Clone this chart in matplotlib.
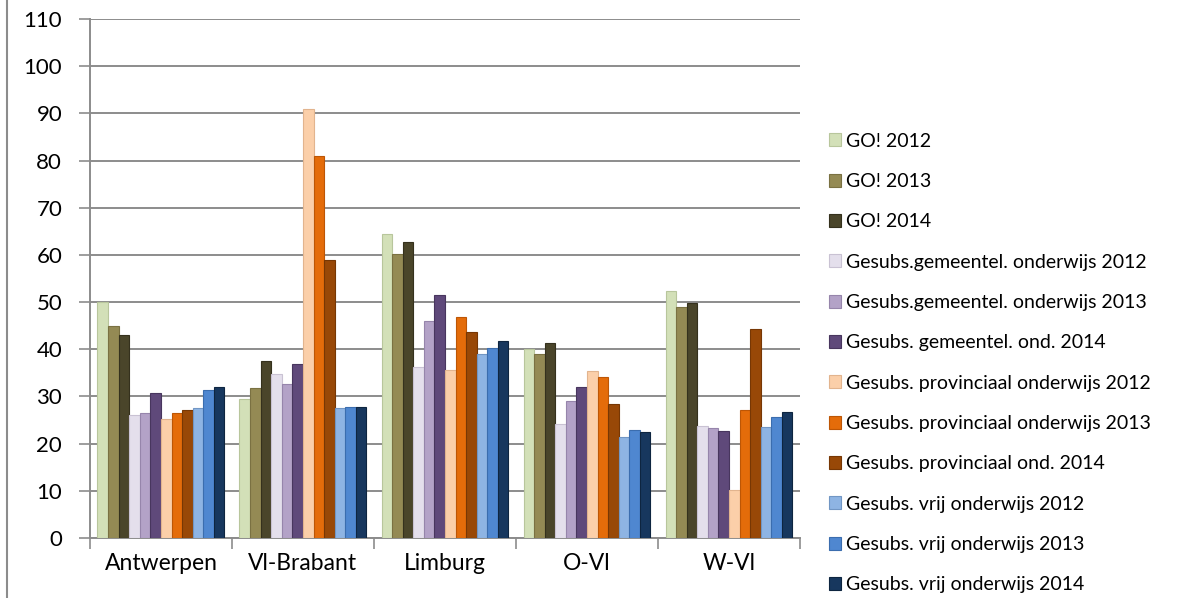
import numpy as np
import matplotlib
matplotlib.use("Agg")
import matplotlib.pyplot as plt
from matplotlib.lines import Line2D

# ---- Data ----
regions = ["Antwerpen", "Vl-Brabant", "Limburg", "O-Vl", "W-Vl"]
series_names = [
    "GO! 2012",
    "GO! 2013",
    "GO! 2014",
    "Gesubs.gemeentel. onderwijs 2012",
    "Gesubs.gemeentel. onderwijs 2013",
    "Gesubs. gemeentel. ond. 2014",
    "Gesubs. provinciaal onderwijs 2012",
    "Gesubs. provinciaal onderwijs 2013",
    "Gesubs. provinciaal ond. 2014",
    "Gesubs. vrij onderwijs 2012",
    "Gesubs. vrij onderwijs 2013",
    "Gesubs. vrij onderwijs 2014",
]
go_2012 = [50.1, 29.5, 64.4, 40.1, 52.4]
go_2013 = [44.9, 31.7, 60.3, 38.9, 48.9]
go_2014 = [43.0, 37.5, 62.7, 41.4, 49.9]
gem_2012 = [26.0, 34.7, 36.3, 24.1, 23.7]
gem_2013 = [26.5, 32.6, 45.9, 29.1, 23.4]
gem_2014 = [30.8, 36.9, 51.5, 32.0, 22.7]
prov_2012 = [25.3, 90.9, 35.7, 35.3, 10.2]
prov_2013 = [26.4, 80.9, 46.9, 34.1, 27.1]
prov_2014 = [27.2, 58.9, 43.6, 28.5, 44.4]
vrij_2012 = [27.5, 27.5, 38.9, 21.5, 23.5]
vrij_2013 = [31.4, 27.8, 40.2, 23.0, 25.6]
vrij_2014 = [32.0, 27.8, 41.8, 22.5, 26.7]

all_series = [go_2012, go_2013, go_2014, gem_2012, gem_2013, gem_2014,
              prov_2012, prov_2013, prov_2014, vrij_2012, vrij_2013, vrij_2014]

colors = ["#D3E0B8", "#948A54", "#4A452A",
          "#E4DFEC", "#B3A2C7", "#5F497A",
          "#FBCFA9", "#E46C0A", "#984807",
          "#8EB4E3", "#4F87D0", "#17375E"]
edges = ["#B8C69C", "#7A7142", "#35311D",
         "#C9C2D3", "#9685AB", "#48365E",
         "#E2B48E", "#BD5605", "#773704",
         "#7196C4", "#3B6DAE", "#0E2540"]

plt.rcParams["font.family"] = ["Lato", "DejaVu Sans"]

fig = plt.figure(figsize=(11.93, 5.98), dpi=100)
ax = fig.add_axes([0.0754, 0.1003, 0.5952, 0.8679])

x = np.arange(len(regions))
bar_w = 0.0745
n = len(all_series)
for i, (vals, c, ec) in enumerate(zip(all_series, colors, edges)):
    offs = (i - (n - 1) / 2) * bar_w
    ax.bar(x + offs, vals, width=bar_w, color=c, edgecolor=ec, linewidth=0.8,
           label=series_names[i], zorder=3)

ax.set_ylim(0, 110)
ax.set_xlim(-0.5, len(regions) - 0.5)
ax.set_yticks(np.arange(0, 111, 10))
ax.yaxis.grid(True, color="#8C8C8C", linewidth=1.4, zorder=0)
ax.set_axisbelow(True)

ax.set_xticks(x)
ax.set_xticklabels(regions, fontsize=16.5)
ax.set_xticks(np.arange(-0.5, len(regions), 1), minor=True)
ax.tick_params(axis="x", which="major", length=0, pad=11)
ax.tick_params(axis="x", which="minor", length=8, color="#8C8C8C", width=1.2)
ax.tick_params(axis="y", length=8, color="#8C8C8C", width=1.2, labelsize=16, pad=12)

for side in ["top", "right"]:
    ax.spines[side].set_visible(False)
for side in ["left", "bottom"]:
    ax.spines[side].set_color("#8C8C8C")
    ax.spines[side].set_linewidth(1.4)

leg = fig.legend(loc="center left", bbox_to_anchor=(0.688, 0.393), frameon=False,
                 fontsize=14, handlelength=0.65, handleheight=0.65,
                 handletextpad=0.25, labelspacing=1.2, borderaxespad=0)

# outer chart border on the left
fig.add_artist(Line2D([0.006, 0.006], [0, 1], transform=fig.transFigure,
                      color="#8C8C8C", linewidth=1.5))

plt.savefig("out.png", dpi=100)
plt.close()
